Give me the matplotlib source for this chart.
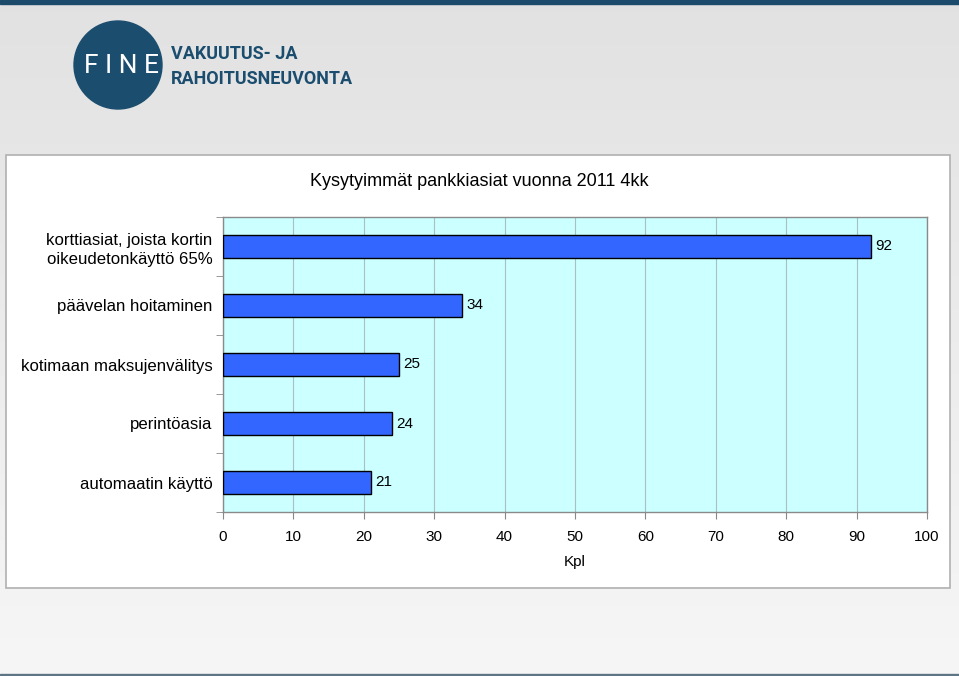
import numpy as np
import matplotlib.pyplot as plt
from matplotlib.patches import Rectangle, Ellipse


categories = [
    "korttiasiat, joista kortin\noikeudetonkäyttö 65%",
    "päävelan hoitaminen",
    "kotimaan maksujenvälitys",
    "perintöasia",
    "automaatin käyttö",
]
values = [92, 34, 25, 24, 21]
x_ticks = [0, 10, 20, 30, 40, 50, 60, 70, 80, 90, 100]

title = "Kysytyimmät pankkiasiat vuonna 2011 4kk"
x_label = "Kpl"

plt.rcParams["font.family"] = ["Liberation Sans", "DejaVu Sans"]

fig = plt.figure(
    figsize=(9.59, 6.76),
    dpi=100
)

# background gradient over the whole slide
bg = fig.add_axes([0, 0, 1, 1], zorder=0)
grad = np.linspace(0.885, 0.965, 256).reshape(-1, 1)
bg.imshow(
    np.dstack([grad, grad, grad]),
    aspect="auto",
    extent=[0, 1, 0, 1],
    origin="upper"
)
bg.add_patch(Rectangle((0, 1 - 4 / 676), 1, 4 / 676, color="#1c4a6a"))
bg.add_patch(Rectangle((0, 0), 1, 2 / 676, color="#5d7585"))

# white chart panel
bg.add_patch(Rectangle(
    (6 / 959, 1 - 588 / 676),
    944 / 959,
    433 / 676,
    facecolor="white",
    edgecolor="#b0b0b0",
    linewidth=1.2
))

# logo circle
bg.add_patch(Ellipse(
    (118 / 959, 1 - 65 / 676),
    88 / 959,
    88 / 676,
    color="#1b4d6f"
))
bg.set_xlim(0, 1)
bg.set_ylim(0, 1)
bg.axis("off")

fig.text(
    121 / 959, 1 - 66 / 676, "F I N E",
    color="white", fontsize=19, ha="center", va="center",
    family=["Roboto", "DejaVu Sans"]
)
logo_font = dict(
    color="#1b4d6f", fontsize=13, ha="left", va="center",
    family=["Roboto", "DejaVu Sans"], fontweight="bold"
)
fig.text(171 / 959, 1 - 54 / 676, "VAKUUTUS- JA", **logo_font)
fig.text(171 / 959, 1 - 79 / 676, "RAHOITUSNEUVONTA", **logo_font)

ax = fig.add_axes(
    [223 / 959, 1 - 512 / 676, 704 / 959, 295 / 676],
    zorder=2
)

y = np.arange(len(categories))

ax.barh(
    y,
    values,
    height=0.4,
    color="#3366ff",
    edgecolor="black",
    linewidth=1,
    zorder=3
)

for yi, v in zip(y, values):
    ax.text(
        v + 0.6, yi, str(v),
        va="center", ha="left", fontsize=11
    )

ax.set_facecolor("#ccffff")
ax.set_xlim(0, 100)
ax.set_ylim(len(categories) - 0.5, -0.5)

ax.set_xticks(x_ticks)
ax.set_xticklabels([str(t) for t in x_ticks], fontsize=11)
ax.set_yticks(y)
ax.set_yticklabels(categories, fontsize=12.1, linespacing=1.35)
ax.set_yticks(np.arange(-0.5, len(categories)), minor=True)

ax.tick_params(axis="y", which="major", length=0, pad=7.5)
ax.tick_params(axis="y", which="minor", length=5, color="#888888")
ax.tick_params(axis="x", length=5, color="#888888", pad=8)

ax.grid(axis="x", color="#a8c0c4", linewidth=0.8, zorder=1)
ax.set_axisbelow(True)

for spine in ax.spines.values():
    spine.set_color("#8a8a8a")
    spine.set_linewidth(1)

ax.set_xlabel(x_label, fontsize=11, labelpad=8)

fig.text(
    479 / 959, 1 - 181 / 676, title,
    ha="center", va="center", fontsize=13
)

plt.savefig("out.png", dpi=100)
plt.close()
